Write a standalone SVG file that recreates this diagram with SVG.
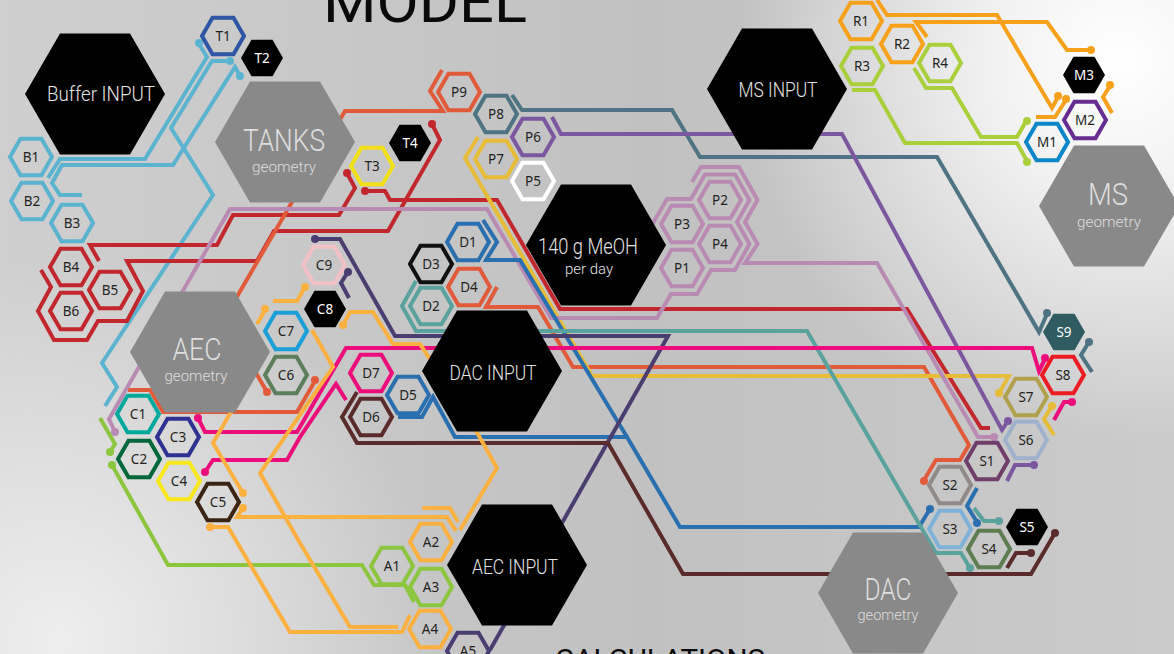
<svg xmlns="http://www.w3.org/2000/svg" xmlns:xlink="http://www.w3.org/1999/xlink" width="1174" height="654" viewBox="0 0 1174 654">
<defs>
  <linearGradient id="bgLin" x1="0" y1="0" x2="1" y2="0">
    <stop offset="0" stop-color="#cfcfcf"/>
    <stop offset="0.55" stop-color="#c1c1c1"/>
    <stop offset="1" stop-color="#cbcbcb"/>
  </linearGradient>
  <radialGradient id="glowTR" cx="1120" cy="60" r="380" gradientUnits="userSpaceOnUse">
    <stop offset="0" stop-color="#ffffff" stop-opacity="1"/>
    <stop offset="0.35" stop-color="#ffffff" stop-opacity="0.75"/>
    <stop offset="1" stop-color="#ffffff" stop-opacity="0"/>
  </radialGradient>
  <radialGradient id="glowBL" cx="60" cy="640" r="380" gradientUnits="userSpaceOnUse">
    <stop offset="0" stop-color="#eeeeee" stop-opacity="1"/>
    <stop offset="1" stop-color="#eeeeee" stop-opacity="0"/>
  </radialGradient>
  <polygon id="hx" points="21,0 10.5,18.19 -10.5,18.19 -21,0 -10.5,-18.19 10.5,-18.19"/>
  <polygon id="HX" points="70,0 35,60.62 -35,60.62 -70,0 -35,-60.62 35,-60.62"/>
</defs>
<style>
  .lb{--c:#5ab4d0}.tb{--c:#2f56a5}.rd{--c:#c1272d}.or{--c:#e15b3a}.yl{--c:#f3e01b}
  .gd{--c:#e7bc39}.sl{--c:#4e7384}.pu{--c:#7d56a0}.mv{--c:#b98ab3}.wh{--c:#ffffff}
  .bl{--c:#2a6fb0}.te{--c:#5aa29e}.o2{--c:#fbb040}.dk{--c:#111111}.ma{--c:#ec0c7c}
  .br{--c:#5a2b2b}.pk{--c:#f2c1c6}.cy{--c:#1a9fd8}.gg{--c:#5b7f5a}.tq{--c:#00a99d}
  .ind{--c:#2e3192}.dg{--c:#00683a}.y2{--c:#f7e71c}.c5{--c:#3c2415}.gr{--c:#8cc63f}
  .lm{--c:#a9cf3a}.og{--c:#f7a11a}.m2{--c:#672d91}.m1{--c:#0b86c9}.ip{--c:#4a3e70}
  .s8{--c:#ec1c24}.s7{--c:#b2a14c}.s6{--c:#9eb2cc}.s1{--c:#6f3e6b}.s2{--c:#908a88}
  .s3{--c:#7fb2d8}.s4{--c:#5b7d4f}.bk{--c:#000000}.s9{--c:#2f5b63}
  #connectors path{fill:none;stroke:var(--c);stroke-width:4;stroke-linejoin:miter}
  #connectors circle{fill:var(--c)}
  .n use{fill:none;stroke:var(--c);stroke-width:4}
  .n text{font-family:"Noto Sans","Open Sans",sans-serif;font-size:13.5px;fill:#231f20;text-anchor:middle}
  .nf use{fill:var(--c);stroke:none}
  .nf text{fill:#ffffff}
  .big text{font-family:Roboto,"Liberation Sans",Arial,sans-serif;font-weight:300;text-anchor:middle}
  .blk use{fill:#000000}
  .blk text{fill:#e4e4e4}
  .geo use{fill:#898989}
  .geo text{fill:#dedede}
  .title{font-family:Roboto,"Liberation Sans",Arial,sans-serif;fill:#0a0a0a}
</style>

<!-- background -->
<rect width="1174" height="654" fill="url(#bgLin)"/>
<rect width="1174" height="654" fill="url(#glowBL)"/>
<rect width="1174" height="654" fill="url(#glowTR)"/>

<!-- headings -->
<text class="title" x="323" y="22" font-size="57" textLength="204" lengthAdjust="spacingAndGlyphs">MODEL</text>
<text class="title" x="555" y="669" font-size="28" textLength="210" lengthAdjust="spacingAndGlyphs">CALCULATIONS</text>

<g id="connectors">
  <g class="lb">
    <path d="M199,44 L207,57 L145,159 L60,159 L48,178"/>
    <path d="M230,61 L212,61 L171,128 L213,195 L102,363 L117,387 L105,406"/>
    <path d="M240,76 L235,67 L173,165 L62,165 L52,183 L60,195 L82,195"/>
    <circle cx="199" cy="43" r="4"/><circle cx="230" cy="61" r="4"/><circle cx="240" cy="76" r="4"/>
  </g>
  <g class="rd">
    <path d="M347,173 L355,188 L339,215 L233,215 L217,245 L90,245 L99,261"/>
    <path d="M41,270 L51,287 L38,311 L54,340 L87,340 L98,321 L127,321 L143,291 L127,261 L257,261 L274,231 L388,231 L440,140 L432,124"/>
    <path d="M365,191 L385,191 L390,200 L497,200 L560,309 L907,309 L981,428 L990,428"/>
    <circle cx="347" cy="173" r="4"/><circle cx="432" cy="124" r="4"/><circle cx="365" cy="191" r="4"/>
  </g>
  <g class="or">
    <path d="M442,70 L430,91 L443,111 L345,111 L235,300 L214,300 L267,392"/>
    <path d="M128,390 L150,390 L163,412 L297,412 L315,381"/>
    <path d="M497,287 L486,307 L538,307 L573,367 L924,367 L969,445 L960,460 L936,460 L924,480"/>
    <circle cx="267" cy="392" r="4"/><circle cx="315" cy="380" r="4"/><circle cx="924" cy="481" r="4"/>
  </g>
  <g class="gd">
    <path d="M478,137 L465,158 L592,376 L1009,376 L999,393"/>
    <path d="M1052,406 L1044,419 L1054,435"/>
    <circle cx="999" cy="393" r="4"/><circle cx="1052" cy="406" r="4"/>
  </g>
  <g class="sl">
    <path d="M512,95 L522,110 L672,110 L700,157 L937,157 L1039,332 L1047,314"/>
    <path d="M1089,342 L1081,355 L1092,372"/>
    <circle cx="1047" cy="313" r="4"/><circle cx="1089" cy="342" r="4"/>
  </g>
  <g class="pu">
    <path d="M552,117 L561,134 L842,134 L1002,430 L1008,421"/>
    <path d="M1034,465 L1015,465 L1007,481"/>
    <circle cx="1008" cy="421" r="4"/><circle cx="1034" cy="465" r="4"/>
  </g>
  <g class="mv">
    <path d="M115,432 L109,419 L230,209 L487,209 L551,318 L657,318 L671,294 L697,294 L711,270 L735,270 L749.5,244 L737,222 L749.5,200 L735,174.5 L705,174.5 L691,199 L667,199 L652.5,224"/>
    <path d="M994,437 L978,437 L877,263 L745,263 L757.5,244 L745,222 L757.5,200 L739,167 L701,167 L692,182"/>
    <circle cx="115" cy="432" r="4"/><circle cx="994" cy="437" r="4"/>
  </g>
  <g class="bl">
    <path d="M483,220 L497,242 L486,260 L520,260 L627,437"/>
    <path d="M398,417 L422,417 L433,397 L455,437 L627,437 L680,527 L919,527 L930,509"/>
    <path d="M977,488 L967,506 L977,522"/>
    <circle cx="930" cy="509" r="4"/><circle cx="977" cy="523" r="4"/>
  </g>
  <g class="te">
    <path d="M416,281 L402,306 L416,331 L807,331 L936,553 L961,553 L970,568"/>
    <path d="M974,508 L984,521 L999,521"/>
    <circle cx="970" cy="568" r="4"/><circle cx="999" cy="521" r="4"/>
  </g>
  <g class="ip">
    <path d="M315,239 L340,239 L395,336 L668,336 L490,650"/>
    <path d="M348,272 L341,283 L349,298"/>
    <circle cx="315" cy="239" r="4"/><circle cx="348" cy="272" r="4"/>
  </g>
  <g class="br">
    <path d="M357,392 L342,417 L357,443 L608,443 L683,574 L1031,574 L1055,533"/>
    <path d="M1007,568 L1016,553 L1031,553"/>
    <circle cx="1055" cy="533" r="4"/><circle cx="1031" cy="553" r="4"/>
  </g>
  <g class="ma">
    <path d="M198,418 L205,432 L297,432 L346,348 L1032,348 L1039,371 L1045,359"/>
    <path d="M205,472 L213,460 L287,460 L300,437 L336,384 L346,400"/>
    <path d="M1072,402 L1064,402 L1054,420"/>
    <circle cx="198" cy="418" r="4"/><circle cx="205" cy="472" r="4"/><circle cx="1072" cy="402" r="4"/><circle cx="1045" cy="358" r="4"/>
  </g>
  <g class="gr">
    <path d="M100,418 L115,444 L110,452"/>
    <path d="M112,465 L168,565 L362,565 L374,585 L405,585 L414,602"/>
    <circle cx="110" cy="452" r="4"/><circle cx="112" cy="465" r="4"/>
  </g>
  <g class="lm">
    <path d="M852,90 L875,90 L905,143 L1017,143 L1027,161"/>
    <path d="M914,68 L926,88 L952,88 L981,137 L1017,137 L1025,123"/>
    <circle cx="1027" cy="162" r="4"/><circle cx="1027" cy="121" r="4"/>
  </g>
  <g class="og">
    <path d="M877,0 L887,15 L997,15 L1052,108 L1058,97"/>
    <path d="M927,37 L916,22 L1047,22 L1067,50 L1090,50"/>
    <path d="M1036,117 L1055,117 L1066,100"/>
    <path d="M1110,86 L1103,97 L1112,113"/>
    <circle cx="1058" cy="96" r="4"/><circle cx="1091" cy="50" r="4"/><circle cx="1066" cy="99" r="4"/><circle cx="1110" cy="85" r="4"/>
  </g>
  <g class="o2">
    <path d="M343,325 L350,312 L373,312 L393,344 L420,344 L475,429 L497,468 L460,530"/>
    <path d="M422,508 L450,508 L458,522"/>
    <path d="M243,508 L237,517 L447,517 L456,531"/>
    <path d="M210,527 L228,527 L290,632 L402,632 L410,615"/>
    <path d="M243,493 L213,443 L250,379"/>
    <path d="M305,287 L297,301 L273,301"/>
    <path d="M265,310 L257,324"/>
    <path d="M312,330 L333,367 L260,473 L300,543 L350,627 L398,627"/>
    <circle cx="343" cy="325" r="4"/><circle cx="243" cy="508" r="4"/><circle cx="210" cy="527" r="4"/>
    <circle cx="305" cy="287" r="4"/><circle cx="265" cy="309" r="4"/><circle cx="243" cy="493" r="4"/>
  </g>
</g>

<!-- large hexagons -->
<g id="node-buffer-input" class="big blk"><use xlink:href="#HX" x="95" y="94"/><text x="101" y="101" font-size="21" textLength="108" lengthAdjust="spacingAndGlyphs">Buffer INPUT</text></g>
<g id="node-tanks" class="big geo"><use xlink:href="#HX" x="285" y="142"/><text x="284" y="151" font-size="31" textLength="82" lengthAdjust="spacingAndGlyphs">TANKS</text><text x="284" y="172" font-size="14" textLength="64" lengthAdjust="spacingAndGlyphs">geometry</text></g>
<g id="node-aec" class="big geo"><use xlink:href="#HX" x="200" y="352"/><text x="197" y="360" font-size="31" textLength="49" lengthAdjust="spacingAndGlyphs">AEC</text><text x="196" y="381" font-size="15" textLength="63" lengthAdjust="spacingAndGlyphs">geometry</text></g>
<g id="node-ms-input" class="big blk"><use xlink:href="#HX" x="777" y="89"/><text x="778" y="97" font-size="21" textLength="79" lengthAdjust="spacingAndGlyphs">MS INPUT</text></g>
<g id="node-meoh" class="big blk"><use xlink:href="#HX" x="596" y="245"/><text x="588" y="254" font-size="22" textLength="100" lengthAdjust="spacingAndGlyphs">140 g MeOH</text><text x="589" y="274" font-size="15" textLength="48" lengthAdjust="spacingAndGlyphs">per day</text></g>
<g id="node-dac-input" class="big blk"><use xlink:href="#HX" x="492" y="371"/><text x="493" y="380" font-size="21" textLength="87" lengthAdjust="spacingAndGlyphs">DAC INPUT</text></g>
<g id="node-aec-input" class="big blk"><use xlink:href="#HX" x="517" y="565"/><text x="515" y="574" font-size="21" textLength="86" lengthAdjust="spacingAndGlyphs">AEC INPUT</text></g>
<g id="node-ms" class="big geo"><use xlink:href="#HX" x="1109" y="206"/><text x="1108" y="205" font-size="31" textLength="40" lengthAdjust="spacingAndGlyphs">MS</text><text x="1109" y="227" font-size="15" textLength="64" lengthAdjust="spacingAndGlyphs">geometry</text></g>
<g id="node-dac" class="big geo"><use xlink:href="#HX" x="888" y="593"/><text x="888" y="600" font-size="31" textLength="47" lengthAdjust="spacingAndGlyphs">DAC</text><text x="888" y="620" font-size="15" textLength="61" lengthAdjust="spacingAndGlyphs">geometry</text></g>

<!-- small hexagons -->
<g id="node-T1" class="n tb"><use xlink:href="#hx" x="223" y="36"/><text x="223" y="41">T1</text></g>
<g id="node-T2" class="n nf bk"><use xlink:href="#hx" x="262" y="58"/><text x="262" y="63">T2</text></g>
<g id="node-T3" class="n yl"><use xlink:href="#hx" x="372" y="166"/><text x="372" y="171">T3</text></g>
<g id="node-T4" class="n nf bk"><use xlink:href="#hx" x="410" y="143"/><text x="410" y="148">T4</text></g>
<g id="node-P9" class="n or"><use xlink:href="#hx" x="459" y="92"/><text x="459" y="97">P9</text></g>
<g id="node-P8" class="n sl"><use xlink:href="#hx" x="496" y="114"/><text x="496" y="119">P8</text></g>
<g id="node-P6" class="n pu"><use xlink:href="#hx" x="533" y="137"/><text x="533" y="142">P6</text></g>
<g id="node-P7" class="n gd"><use xlink:href="#hx" x="496" y="159"/><text x="496" y="164">P7</text></g>
<g id="node-P5" class="n wh"><use xlink:href="#hx" x="533" y="181"/><text x="533" y="186">P5</text></g>
<g id="node-P2" class="n mv"><use xlink:href="#hx" x="720" y="200"/><text x="720" y="205">P2</text></g>
<g id="node-P3" class="n mv"><use xlink:href="#hx" x="682" y="224"/><text x="682" y="229">P3</text></g>
<g id="node-P4" class="n mv"><use xlink:href="#hx" x="720" y="244"/><text x="720" y="249">P4</text></g>
<g id="node-P1" class="n mv"><use xlink:href="#hx" x="682" y="268"/><text x="682" y="273">P1</text></g>
<g id="node-B1" class="n lb"><use xlink:href="#hx" x="31" y="157"/><text x="31" y="162">B1</text></g>
<g id="node-B2" class="n lb"><use xlink:href="#hx" x="32" y="201"/><text x="32" y="206">B2</text></g>
<g id="node-B3" class="n lb"><use xlink:href="#hx" x="72" y="223"/><text x="72" y="228">B3</text></g>
<g id="node-B4" class="n rd"><use xlink:href="#hx" x="71" y="267"/><text x="71" y="272">B4</text></g>
<g id="node-B5" class="n rd"><use xlink:href="#hx" x="110" y="290"/><text x="110" y="295">B5</text></g>
<g id="node-B6" class="n rd"><use xlink:href="#hx" x="71" y="311"/><text x="71" y="316">B6</text></g>
<g id="node-C9" class="n pk"><use xlink:href="#hx" x="324" y="265"/><text x="324" y="270">C9</text></g>
<g id="node-C8" class="n nf bk"><use xlink:href="#hx" x="325" y="309"/><text x="325" y="314">C8</text></g>
<g id="node-C7" class="n cy"><use xlink:href="#hx" x="286" y="331"/><text x="286" y="336">C7</text></g>
<g id="node-C6" class="n gg"><use xlink:href="#hx" x="286" y="375"/><text x="286" y="380">C6</text></g>
<g id="node-C1" class="n tq"><use xlink:href="#hx" x="138" y="414"/><text x="138" y="419">C1</text></g>
<g id="node-C3" class="n ind"><use xlink:href="#hx" x="178" y="437"/><text x="178" y="442">C3</text></g>
<g id="node-C2" class="n dg"><use xlink:href="#hx" x="139" y="459"/><text x="139" y="464">C2</text></g>
<g id="node-C4" class="n y2"><use xlink:href="#hx" x="179" y="481"/><text x="179" y="486">C4</text></g>
<g id="node-C5" class="n c5"><use xlink:href="#hx" x="218" y="502"/><text x="218" y="507">C5</text></g>
<g id="node-D1" class="n bl"><use xlink:href="#hx" x="468" y="242"/><text x="468" y="247">D1</text></g>
<g id="node-D3" class="n dk"><use xlink:href="#hx" x="431" y="264"/><text x="431" y="269">D3</text></g>
<g id="node-D4" class="n or"><use xlink:href="#hx" x="469" y="287"/><text x="469" y="292">D4</text></g>
<g id="node-D2" class="n te"><use xlink:href="#hx" x="431" y="306"/><text x="431" y="311">D2</text></g>
<g id="node-D7" class="n ma"><use xlink:href="#hx" x="371" y="373"/><text x="371" y="378">D7</text></g>
<g id="node-D5" class="n bl"><use xlink:href="#hx" x="408" y="395"/><text x="408" y="400">D5</text></g>
<g id="node-D6" class="n br"><use xlink:href="#hx" x="371" y="417"/><text x="371" y="422">D6</text></g>
<g id="node-A2" class="n o2"><use xlink:href="#hx" x="431" y="542"/><text x="431" y="547">A2</text></g>
<g id="node-A1" class="n gr"><use xlink:href="#hx" x="392" y="566"/><text x="392" y="571">A1</text></g>
<g id="node-A3" class="n gr"><use xlink:href="#hx" x="431" y="587"/><text x="431" y="592">A3</text></g>
<g id="node-A4" class="n o2"><use xlink:href="#hx" x="430" y="629"/><text x="430" y="634">A4</text></g>
<g id="node-A5" class="n ip"><use xlink:href="#hx" x="468" y="651"/><text x="468" y="656">A5</text></g>
<g id="node-R1" class="n og"><use xlink:href="#hx" x="861" y="21"/><text x="861" y="26">R1</text></g>
<g id="node-R2" class="n og"><use xlink:href="#hx" x="902" y="44"/><text x="902" y="49">R2</text></g>
<g id="node-R3" class="n lm"><use xlink:href="#hx" x="862" y="66"/><text x="862" y="71">R3</text></g>
<g id="node-R4" class="n lm"><use xlink:href="#hx" x="940" y="63"/><text x="940" y="68">R4</text></g>
<g id="node-M3" class="n nf bk"><use xlink:href="#hx" x="1084" y="75"/><text x="1084" y="80">M3</text></g>
<g id="node-M2" class="n m2"><use xlink:href="#hx" x="1085" y="120"/><text x="1085" y="125">M2</text></g>
<g id="node-M1" class="n m1"><use xlink:href="#hx" x="1047" y="142"/><text x="1047" y="147">M1</text></g>
<g id="node-S9" class="n nf s9"><use xlink:href="#hx" x="1064" y="332"/><text x="1064" y="337">S9</text></g>
<g id="node-S8" class="n s8"><use xlink:href="#hx" x="1063" y="375"/><text x="1063" y="380">S8</text></g>
<g id="node-S7" class="n s7"><use xlink:href="#hx" x="1026" y="397"/><text x="1026" y="402">S7</text></g>
<g id="node-S6" class="n s6"><use xlink:href="#hx" x="1026" y="440"/><text x="1026" y="445">S6</text></g>
<g id="node-S1" class="n s1"><use xlink:href="#hx" x="987" y="461"/><text x="987" y="466">S1</text></g>
<g id="node-S2" class="n s2"><use xlink:href="#hx" x="950" y="485"/><text x="950" y="490">S2</text></g>
<g id="node-S3" class="n s3"><use xlink:href="#hx" x="950" y="529"/><text x="950" y="534">S3</text></g>
<g id="node-S4" class="n s4"><use xlink:href="#hx" x="989" y="549"/><text x="989" y="554">S4</text></g>
<g id="node-S5" class="n nf bk"><use xlink:href="#hx" x="1027" y="527"/><text x="1027" y="532">S5</text></g>
</svg>
